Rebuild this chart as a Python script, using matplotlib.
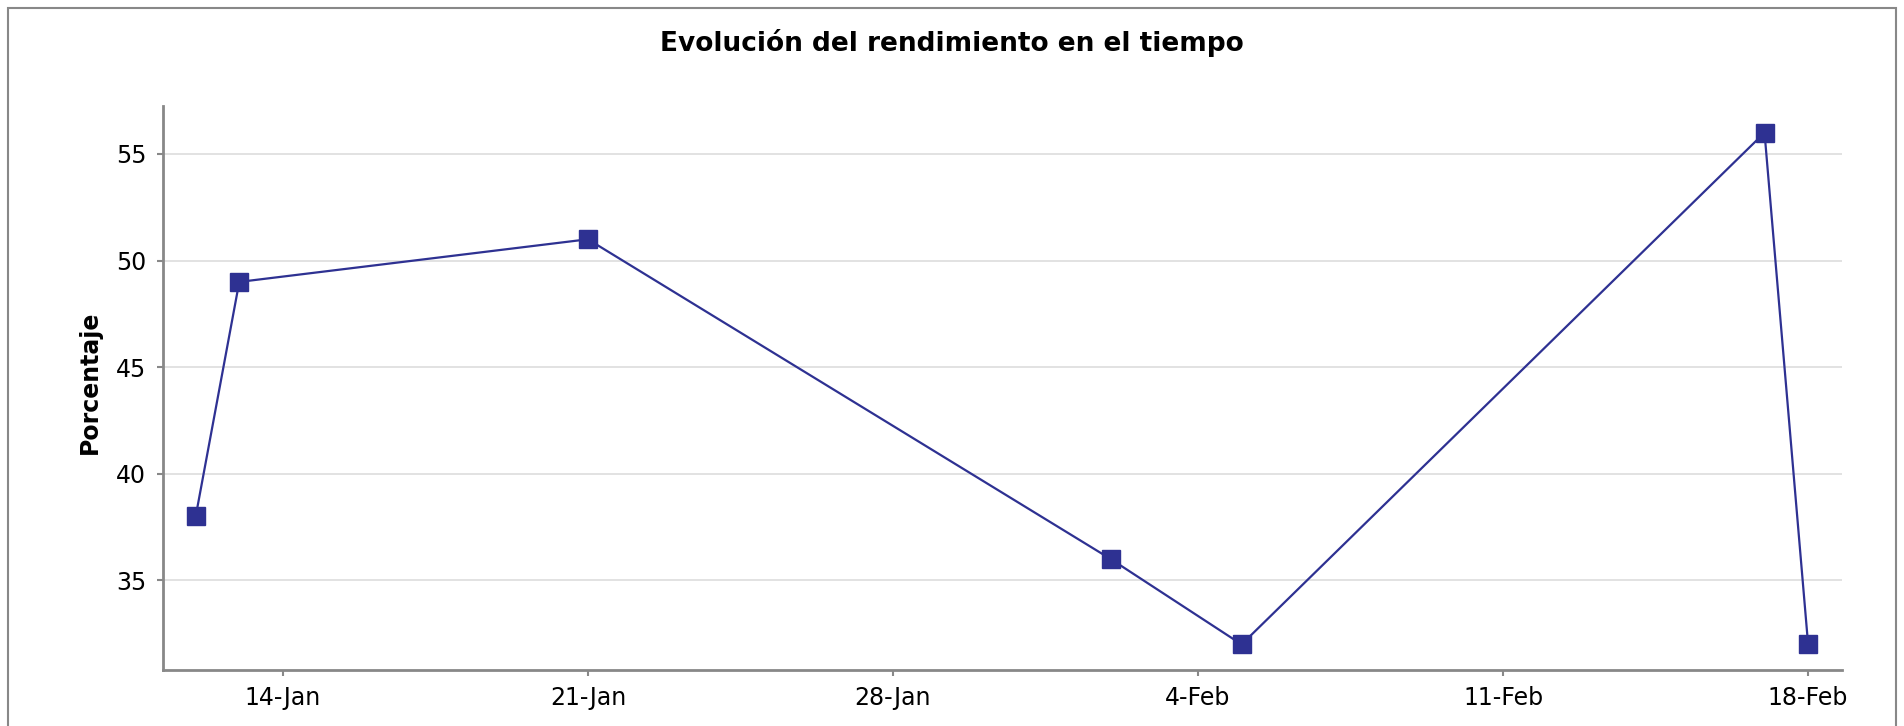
import matplotlib
matplotlib.use("Agg")
import matplotlib.pyplot as plt
import matplotlib.dates as mdates
import pandas as pd
from matplotlib.patches import Rectangle

# datos
fechas = ["2024-01-12", "2024-01-13", "2024-01-21", "2024-02-02",
          "2024-02-05", "2024-02-17", "2024-02-18"]
porcentaje = [38, 49, 51, 36, 32, 56, 32]
ticks_x = ["2024-01-14", "2024-01-21", "2024-01-28", "2024-02-04",
           "2024-02-11", "2024-02-18"]
ticks_y = [35, 40, 45, 50, 55]

fechas = pd.to_datetime(fechas)
ticks_x = pd.to_datetime(ticks_x)

color = "#2E3192"
gris = "#888888"

fig = plt.figure(figsize=(19.04, 7.26), dpi=100)
ax = fig.add_axes([163 / 1904, 1 - 670 / 726, (1842 - 163) / 1904, (670 - 106) / 726])

# marco gris de la figura
fig.patches.append(Rectangle((8 / 1904, -0.1), (1896 - 8) / 1904, 1.1 - 8 / 726,
                             transform=fig.transFigure, fill=False,
                             edgecolor=gris, linewidth=1.5))

ax.plot(fechas, porcentaje, color=color, linewidth=1.6, marker="s",
        markersize=13, markeredgecolor=color, markerfacecolor=color, zorder=3)

ax.set_xlim(pd.Timestamp("2024-01-11 06:00"), pd.Timestamp("2024-02-18 18:40"))
ax.set_ylim(30.8, 57.25)
ax.set_xticks(ticks_x)
ax.xaxis.set_major_formatter(mdates.DateFormatter("%-d-%b"))
ax.set_yticks(ticks_y)

ax.grid(axis="y", color="#dddddd", linewidth=1.2)
ax.set_axisbelow(True)
for s in ["top", "right"]:
    ax.spines[s].set_visible(False)
for s in ["left", "bottom"]:
    ax.spines[s].set_color(gris)
    ax.spines[s].set_linewidth(2)
ax.tick_params(colors=gris, labelcolor="black", labelsize=17, length=4.5, width=1.5)
ax.tick_params(axis="x", pad=7)
ax.tick_params(axis="y", pad=7.5)

ax.set_ylabel("Porcentaje", fontsize=17, fontweight="bold", va="center")
ax.yaxis.set_label_coords(90 / 1904, 1 - 382 / 726, transform=fig.transFigure)
fig.text(0.5, 1 - 43 / 726, "Evolución del rendimiento en el tiempo",
         ha="center", va="center", fontsize=19, fontweight="bold")

fig.savefig("out.png", dpi=100)
